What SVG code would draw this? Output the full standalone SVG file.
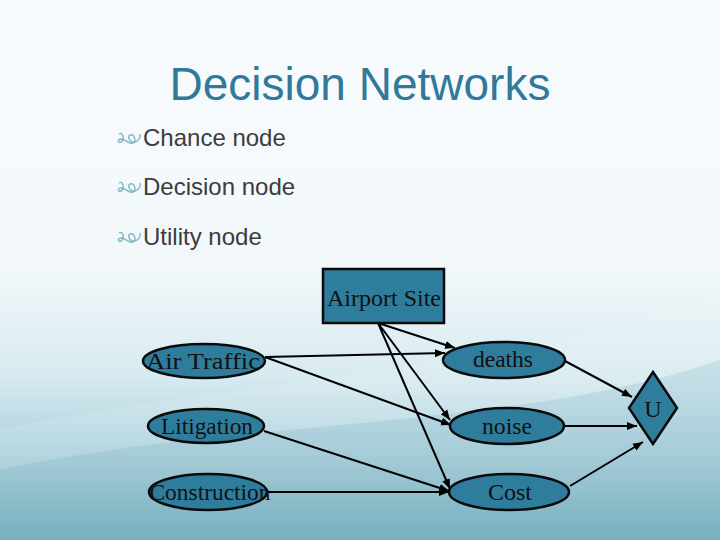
<svg xmlns="http://www.w3.org/2000/svg" width="720" height="540" viewBox="0 0 720 540">
<defs>
<linearGradient id="bg" x1="0" y1="0" x2="0" y2="1">
<stop offset="0" stop-color="#f8fbfd"/>
<stop offset="0.5" stop-color="#f2f8fa"/>
<stop offset="0.7" stop-color="#d6eaf0"/>
<stop offset="0.85" stop-color="#a9cfda"/>
<stop offset="1" stop-color="#6aa9ba"/>
</linearGradient>
<marker id="ah" viewBox="0 0 10 10" refX="10" refY="5" markerWidth="10" markerHeight="10" markerUnits="userSpaceOnUse" orient="auto">
<path d="M0,1 L10,5 L0,9 z" fill="#000"/>
</marker>
<style>
.nd{fill:#2f7d9d;stroke:#0a0a0a;stroke-width:2.5}
.lb{font-family:"Liberation Serif","Times New Roman",serif;font-size:24px;fill:#111;text-anchor:middle}
.bl{font-family:"Liberation Sans",Arial,sans-serif;font-size:24px;fill:#3c3c3c}
.bu{fill:none;stroke:#7fb6c4;stroke-width:1.4}
.ed{stroke:#000;stroke-width:2;fill:none;marker-end:url(#ah)}
</style>
</defs>
<rect width="720" height="540" fill="url(#bg)"/>
<path d="M0,430 C180,390 420,380 720,300 L720,540 L0,540 z" fill="#ffffff" fill-opacity="0.12"/>
<path d="M0,470 C220,420 520,430 720,360 L720,540 L0,540 z" fill="#5fa3b6" fill-opacity="0.18"/>
<text x="360" y="100" font-family="Liberation Sans, Arial, sans-serif" font-size="46" fill="#31799a" text-anchor="middle">Decision Networks</text>
<g id="bullets">
<path class="bu" d="M119,134 C123,131 125,140 121,142 C118,144 117,139 121,139 C126,139 129,145 133,143 C137,141 134,133 130,135 C127,137 130,143 135,142 C139,141 141,137 140,134"/>
<text class="bl" x="143" y="146">Chance node</text>
<path class="bu" d="M119,183 C123,180 125,189 121,191 C118,193 117,188 121,188 C126,188 129,194 133,192 C137,190 134,182 130,184 C127,186 130,192 135,191 C139,190 141,186 140,183"/>
<text class="bl" x="143" y="195">Decision node</text>
<path class="bu" d="M119,233 C123,230 125,239 121,241 C118,243 117,238 121,238 C126,238 129,244 133,242 C137,240 134,232 130,234 C127,236 130,242 135,241 C139,240 141,236 140,233"/>
<text class="bl" x="143" y="245">Utility node</text>
</g>
<g id="connectors">
<line class="ed" x1="265" y1="357" x2="445" y2="353"/>
<line class="ed" x1="265" y1="357" x2="451" y2="425"/>
<line class="ed" x1="378" y1="323" x2="455" y2="348"/>
<line class="ed" x1="378" y1="323" x2="450" y2="420"/>
<line class="ed" x1="378" y1="323" x2="450" y2="489"/>
<line class="ed" x1="264" y1="431" x2="449" y2="491"/>
<line class="ed" x1="268" y1="492" x2="449" y2="492"/>
<line class="ed" x1="565" y1="361" x2="632" y2="397"/>
<line class="ed" x1="564" y1="426" x2="637" y2="426"/>
<line class="ed" x1="570" y1="486" x2="643" y2="442"/>
</g>
<g id="airport-site">
<rect class="nd" x="323" y="269" width="121" height="54"/>
<text class="lb" x="384" y="306" textLength="114" lengthAdjust="spacingAndGlyphs">Airport Site</text>
</g>
<g id="air-traffic">
<ellipse class="nd" cx="204" cy="361" rx="61" ry="17"/>
<text class="lb" x="203" y="369" textLength="114" lengthAdjust="spacingAndGlyphs">Air Traffic</text>
</g>
<g id="litigation">
<ellipse class="nd" cx="206" cy="426" rx="58" ry="17"/>
<text class="lb" x="207" y="434" textLength="92" lengthAdjust="spacingAndGlyphs">Litigation</text>
</g>
<g id="construction">
<ellipse class="nd" cx="208" cy="492" rx="59" ry="18"/>
<text class="lb" x="210" y="500" textLength="121" lengthAdjust="spacingAndGlyphs">Construction</text>
</g>
<g id="deaths">
<ellipse class="nd" cx="504" cy="360" rx="61" ry="18"/>
<text class="lb" x="503" y="367" textLength="60" lengthAdjust="spacingAndGlyphs">deaths</text>
</g>
<g id="noise">
<ellipse class="nd" cx="507" cy="426" rx="57" ry="18"/>
<text class="lb" x="507" y="434" textLength="50" lengthAdjust="spacingAndGlyphs">noise</text>
</g>
<g id="cost">
<ellipse class="nd" cx="509" cy="492" rx="60" ry="18"/>
<text class="lb" x="510" y="500" textLength="44" lengthAdjust="spacingAndGlyphs">Cost</text>
</g>
<g id="utility-u">
<polygon class="nd" points="653,372 677,408 653,444 629,408"/>
<text class="lb" x="653" y="417">U</text>
</g>
</svg>
